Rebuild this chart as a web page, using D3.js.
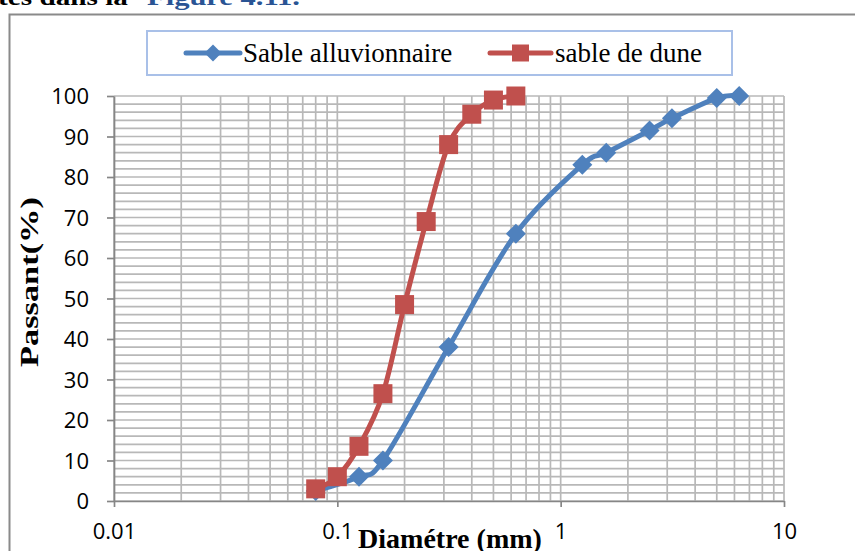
<!DOCTYPE html>
<html>
<head>
<meta charset="utf-8">
<script src="https://cdn.jsdelivr.net/npm/d3@7"></script>
<style>
  html, body { margin: 0; padding: 0; background: #fff; }
  svg { display: block; }
</style>
</head>
<body>
<svg id="chart" width="855" height="551"></svg>
<script>
// Sieve sizes (mm) and percent passing for each sand
const duneSizes  = [0.08, 0.1, 0.125, 0.16, 0.2, 0.25, 0.315, 0.4, 0.5, 0.63];
const duneValues = [3, 6, 13.5, 26.5, 48.5, 69, 88, 95.5, 99, 100];
const alluvSizes  = [0.08, 0.125, 0.16, 0.315, 0.63, 1.25, 1.6, 2.5, 3.15, 5, 6.3];
const alluvValues = [2.5, 6, 10, 38, 66, 83, 86, 91.5, 94.5, 99.5, 100];

const seriesNames = ["Sable alluvionnaire", "sable de dune"];
const xTicks = [0.01, 0.1, 1, 10];
const xTickLabels = ["0.01", "0.1", "1", "10"];
const yTicks = [0, 10, 20, 30, 40, 50, 60, 70, 80, 90, 100];

const BLUE = "#4f81bd", RED = "#c0504d";
const GRID = "#b8b8b8", AXIS = "#868686";
const SANS = "'Open Sans', sans-serif";
const SERIF = "'Liberation Serif', 'Times New Roman', serif";

const svg = d3.select("#chart");

const x = d3.scaleLog().domain([0.01, 10]).range([114, 784]);
const y = d3.scaleLinear().domain([0, 100]).range([501, 96]);

// text helper: optionally stretch the text to an exact length
function label(parent, px, py, str, o) {
  const g = parent.append("g").attr("transform", `translate(${px},${py})` + (o.rotate ? ` rotate(${o.rotate})` : ""));
  const t = g.append("text")
    .attr("text-anchor", o.anchor || "start")
    .attr("font-family", o.family)
    .attr("font-size", o.size)
    .attr("font-weight", o.weight || "normal")
    .attr("fill", o.fill || "#000")
    .text(str);
  if (o.width) {
    const w = t.node().getComputedTextLength();
    t.attr("transform", `scale(${o.width / w},1)`);
  }
  return g;
}

// outer chart frame
svg.append("rect")
  .attr("x", 9.5).attr("y", 14.5).attr("width", 900).attr("height", 600)
  .attr("fill", "none").attr("stroke", "#8a8a8a").attr("stroke-width", 2);

// running text above the frame
label(svg, -2, 5, "tes dans la", { family: SERIF, size: 24, weight: "bold", width: 130 });
label(svg, 147, 5, "Figure 4.11.", { family: SERIF, size: 24, weight: "bold", fill: "#2a5494", width: 153 });

// grid
const grid = svg.append("g");
const vLines = [];
for (let e = -2; e <= 0; e++) for (let k = 1; k <= 9; k++) vLines.push(k * Math.pow(10, e));
vLines.push(10);
grid.selectAll("line.v").data(vLines).join("line")
  .attr("x1", d => x(d)).attr("x2", d => x(d))
  .attr("y1", y(100)).attr("y2", y(0))
  .attr("stroke", GRID).attr("stroke-width", 1.7);
grid.selectAll("line.h").data(d3.range(0, 101, 2)).join("line")
  .attr("x1", x(0.01)).attr("x2", x(10))
  .attr("y1", d => y(d)).attr("y2", d => y(d))
  .attr("stroke", GRID).attr("stroke-width", 1.7);

// axes
const yAxis = svg.append("g").attr("transform", `translate(${x(0.01)},0)`)
  .call(d3.axisLeft(y).tickValues(yTicks).tickSize(7).tickPadding(18).tickSizeOuter(0));
const xAxis = svg.append("g").attr("transform", `translate(0,${y(0)})`)
  .call(d3.axisBottom(x).tickValues(xTicks).tickFormat((d, i) => xTickLabels[i]).tickSize(6).tickPadding(15).tickSizeOuter(0));
[yAxis, xAxis].forEach(a => {
  a.select(".domain").attr("stroke", AXIS).attr("stroke-width", 1.7);
  a.selectAll(".tick line").attr("stroke", AXIS).attr("stroke-width", 1.7);
  a.selectAll(".tick text").attr("font-family", SANS).attr("font-size", 22).attr("fill", "#000");
});
yAxis.selectAll(".tick text").attr("dy", "0.36em");
xAxis.selectAll(".tick text").attr("dy", "0.78em");

// axis titles
label(svg, 38, 367, "Passant(%)", { family: SERIF, size: 26, weight: "bold", rotate: -90, width: 170 });
label(svg, 358, 548, "Diamétre (mm)", { family: SERIF, size: 27, weight: "bold", width: 184 });

// series
const line = d3.line().x(d => x(d[0])).y(d => y(d[1])).curve(d3.curveCatmullRom.alpha(0));
const alluv = alluvSizes.map((s, i) => [s, alluvValues[i]]);
const dune = duneSizes.map((s, i) => [s, duneValues[i]]);

const diamond = r => `M0,${-r}L${r},0L0,${r}L${-r},0Z`;
const square = s => `M${-s / 2},${-s / 2}h${s}v${s}h${-s}Z`;

svg.append("path").datum(alluv).attr("d", line)
  .attr("fill", "none").attr("stroke", BLUE).attr("stroke-width", 5).attr("stroke-linejoin", "round");
svg.selectAll("path.alluv").data(alluv).join("path").attr("class", "alluv")
  .attr("transform", d => `translate(${x(d[0])},${y(d[1])})`)
  .attr("d", diamond(10)).attr("fill", BLUE);

svg.append("path").datum(dune).attr("d", line)
  .attr("fill", "none").attr("stroke", RED).attr("stroke-width", 5).attr("stroke-linejoin", "round");
svg.selectAll("path.dune").data(dune).join("path").attr("class", "dune")
  .attr("transform", d => `translate(${x(d[0])},${y(d[1])})`)
  .attr("d", square(19)).attr("fill", RED);

// legend
const lg = svg.append("g");
lg.append("rect").attr("x", 147).attr("y", 31).attr("width", 585).attr("height", 44)
  .attr("fill", "#fff").attr("stroke", "#a9c0e8").attr("stroke-width", 2);
const legendItems = [
  { name: seriesNames[0], color: BLUE, x0: 186, x1: 240, marker: diamond(8.5), tx: 243 },
  { name: seriesNames[1], color: RED, x0: 490, x1: 551, marker: square(17), tx: 555 }
];
legendItems.forEach(it => {
  lg.append("line").attr("x1", it.x0).attr("x2", it.x1).attr("y1", 53).attr("y2", 53)
    .attr("stroke", it.color).attr("stroke-width", 5).attr("stroke-linecap", "round");
  lg.append("path").attr("transform", `translate(${(it.x0 + it.x1) / 2},53)`)
    .attr("d", it.marker).attr("fill", it.color);
  label(lg, it.tx, 62, it.name, { family: SERIF, size: 27 });
});
</script>
</body>
</html>
